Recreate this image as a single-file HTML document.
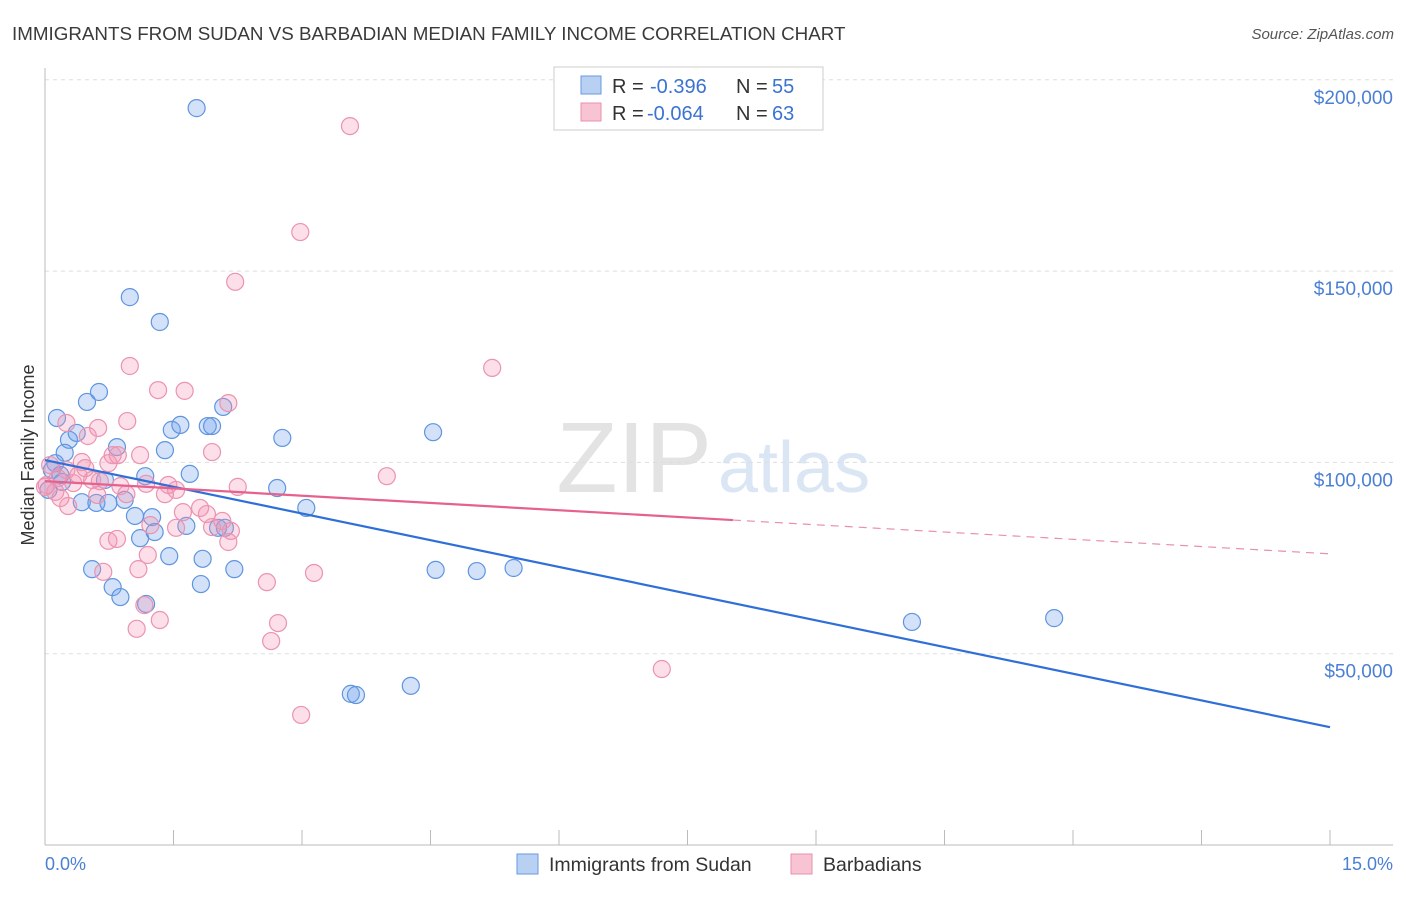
<!DOCTYPE html>
<html><head><meta charset="utf-8"><style>
body{margin:0;background:#fff;font-family:"Liberation Sans",sans-serif;}
svg text{font-family:"Liberation Sans",sans-serif;}
</style></head><body>
<svg id="chart" width="1406" height="892">
<text x="12" y="40" font-size="18.8" fill="#3a3a3a">IMMIGRANTS FROM SUDAN VS BARBADIAN MEDIAN FAMILY INCOME CORRELATION CHART</text>
<text x="1394" y="39" font-size="15" fill="#555" text-anchor="end" font-style="italic">Source: ZipAtlas.com</text>
<text x="712" y="492" font-size="100" fill="#e3e3e3" text-anchor="end" font-family="Liberation Serif">ZIP</text>
<text x="718" y="492" font-size="72" fill="#dbe6f5">atlas</text>
<g id="grid"></g><g id="axes"></g><g id="marks"></g>
<text x="34" y="455" font-size="18" fill="#333" text-anchor="middle" transform="rotate(-90 34 455)">Median Family Income</text>
<g>
<rect x="554" y="67" width="269" height="63" fill="#fff" stroke="#ccc"/>
<rect x="581" y="76" width="20" height="18" fill="#b8d0f2" stroke="#6a9ae0"/>
<text x="612" y="93" font-size="20" fill="#333">R =</text>
<text x="650" y="93" font-size="20" fill="#3b73d0">-0.396</text>
<text x="736" y="93" font-size="20" fill="#333">N =</text>
<text x="772" y="93" font-size="20" fill="#3b73d0">55</text>
<rect x="581" y="103" width="20" height="18" fill="#f8c4d3" stroke="#e890ad"/>
<text x="612" y="120" font-size="20" fill="#333">R =</text>
<text x="647" y="120" font-size="20" fill="#3b73d0">-0.064</text>
<text x="736" y="120" font-size="20" fill="#333">N =</text>
<text x="772" y="120" font-size="20" fill="#3b73d0">63</text>
</g>
<g>
<rect x="517" y="854" width="21" height="20" fill="#b8d0f2" stroke="#6a9ae0"/>
<text x="549" y="871" font-size="19.5" fill="#333">Immigrants from Sudan</text>
<rect x="791" y="854" width="21" height="20" fill="#f8c4d3" stroke="#e890ad"/>
<text x="823" y="871" font-size="19.5" fill="#333">Barbadians</text>
</g>
</svg>
<script>
const yTicks=[50,100,150,200];
const yTickLabels=["$50,000","$100,000","$150,000","$200,000"];
const xTickLabels=["0.0%","15.0%"];
const blueX=[1.77,0.99,1.34,0.14,0.63,0.49,0.28,0.37,0.23,0.84,0.12,0.08,0.18,0.70,1.17,1.69,1.40,1.48,1.58,1.90,1.95,2.08,2.77,4.53,2.71,3.05,0.43,0.60,0.74,0.93,1.05,1.25,1.28,1.11,1.65,2.02,2.10,1.45,1.84,2.21,0.55,0.79,0.88,1.18,1.82,4.56,5.04,5.47,10.12,11.78,3.57,3.63,4.27,0.04,0.20];
const blueY=[192.6,143.2,136.7,111.6,118.4,115.8,105.9,107.7,102.5,104.0,99.8,98.0,96.7,95.4,96.4,97.0,103.2,108.5,109.8,109.5,109.5,114.5,106.4,107.9,93.3,88.1,89.6,89.4,89.4,90.2,86.0,85.7,81.8,80.2,83.4,82.9,82.9,75.5,74.8,72.1,72.1,67.4,64.8,63.0,68.2,71.9,71.6,72.4,58.3,59.3,39.5,39.2,41.6,92.8,94.9];
const pinkX=[3.56,2.98,2.22,5.22,0.99,1.32,1.63,2.14,0.25,0.50,0.62,0.96,0.79,0.85,0.43,0.25,0.06,0.02,0.15,0.33,0.39,0.55,0.64,0.88,1.18,1.44,1.53,1.40,2.25,3.99,0.61,0.27,0.95,1.23,1.61,1.89,2.07,2.17,1.53,1.95,0.74,0.84,2.14,1.20,1.09,0.68,2.59,3.14,1.34,1.07,1.16,2.72,2.64,2.99,7.20,0.12,0.0,0.18,0.47,1.11,1.81,1.95,0.74];
const pinkY=[187.9,160.2,147.2,124.7,125.2,118.9,118.7,115.5,110.3,106.9,109.0,110.8,101.9,101.9,100.1,98.0,99.3,94.1,95.9,94.6,96.7,95.4,95.1,93.8,94.4,94.1,92.8,91.7,93.6,96.4,91.5,88.6,91.7,83.6,87.0,86.5,84.7,82.1,82.9,83.1,79.5,80.0,79.2,75.8,72.1,71.4,68.7,71.1,58.8,56.5,62.7,58.0,53.3,34.0,46.0,92.3,93.6,90.7,98.5,101.9,88.1,102.7,99.8];
const blueTrend=[100.6,30.8];
const pinkTrend=[95.1,76.1];
const pinkSolidEnd=8.03;

const NS="http://www.w3.org/2000/svg";
const sx=v=>45+v*(1285/15);
const sy=v=>845-v*3.826;
function mk(tag,attrs,parent){const e=document.createElementNS(NS,tag);for(const k in attrs)e.setAttribute(k,attrs[k]);document.getElementById(parent).appendChild(e);return e;}
yTicks.forEach((t,i)=>{
  const g=mk('line',{x1:45,x2:1393,y1:sy(t),y2:sy(t),stroke:'#ddd','stroke-dasharray':'4,4'},'grid');
  
  
  const l=mk('text',{x:1393,y:sy(t)+24,'font-size':19,fill:'#4a7fd4','text-anchor':'end'},'axes');
  l.textContent=yTickLabels[i];
  
  
});
const ya=mk('line',{x1:45,x2:45,y1:68,y2:845,stroke:'#bbb'},'axes');


const xa=mk('line',{x1:45,x2:1393,y1:845,y2:845,stroke:'#bbb'},'axes');


for(let i=0;i<=10;i++){
  const t=mk('line',{x1:sx(i*1.5),x2:sx(i*1.5),y1:830,y2:845,stroke:'#bbb'},'axes');
  
  
}
[[0,'start',45],[15,'end',1393]].forEach((p,i)=>{
  const l=mk('text',{x:p[2],y:870,'font-size':18,fill:'#4a7fd4','text-anchor':p[1]},'axes');
  l.textContent=xTickLabels[i];
  
  
});
blueX.forEach((x,i)=>{
  const c=mk('circle',{cx:sx(x),cy:sy(blueY[i]),r:8.5,fill:'rgba(110,160,235,0.3)',stroke:'#5f95e0','stroke-width':1.2},'marks');
  
  
});
pinkX.forEach((x,i)=>{
  const c=mk('circle',{cx:sx(x),cy:sy(pinkY[i]),r:8.5,fill:'rgba(245,150,180,0.3)',stroke:'#eb93b0','stroke-width':1.2},'marks');
  
  
});
const bt=mk('line',{x1:sx(0),y1:sy(blueTrend[0]),x2:sx(15),y2:sy(blueTrend[1]),stroke:'#2f6fd8','stroke-width':2.2},'marks');


const pv=x=>pinkTrend[0]+(pinkTrend[1]-pinkTrend[0])*x/15;
const ps=mk('line',{x1:sx(0),y1:sy(pv(0)),x2:sx(pinkSolidEnd),y2:sy(pv(pinkSolidEnd)),stroke:'#e5628f','stroke-width':2.2},'marks');


const pd=mk('line',{x1:sx(pinkSolidEnd),y1:sy(pv(pinkSolidEnd)),x2:sx(15),y2:sy(pv(15)),stroke:'#e890ad','stroke-width':1.2,'stroke-dasharray':'8,6'},'marks');


</script>
</body></html>
